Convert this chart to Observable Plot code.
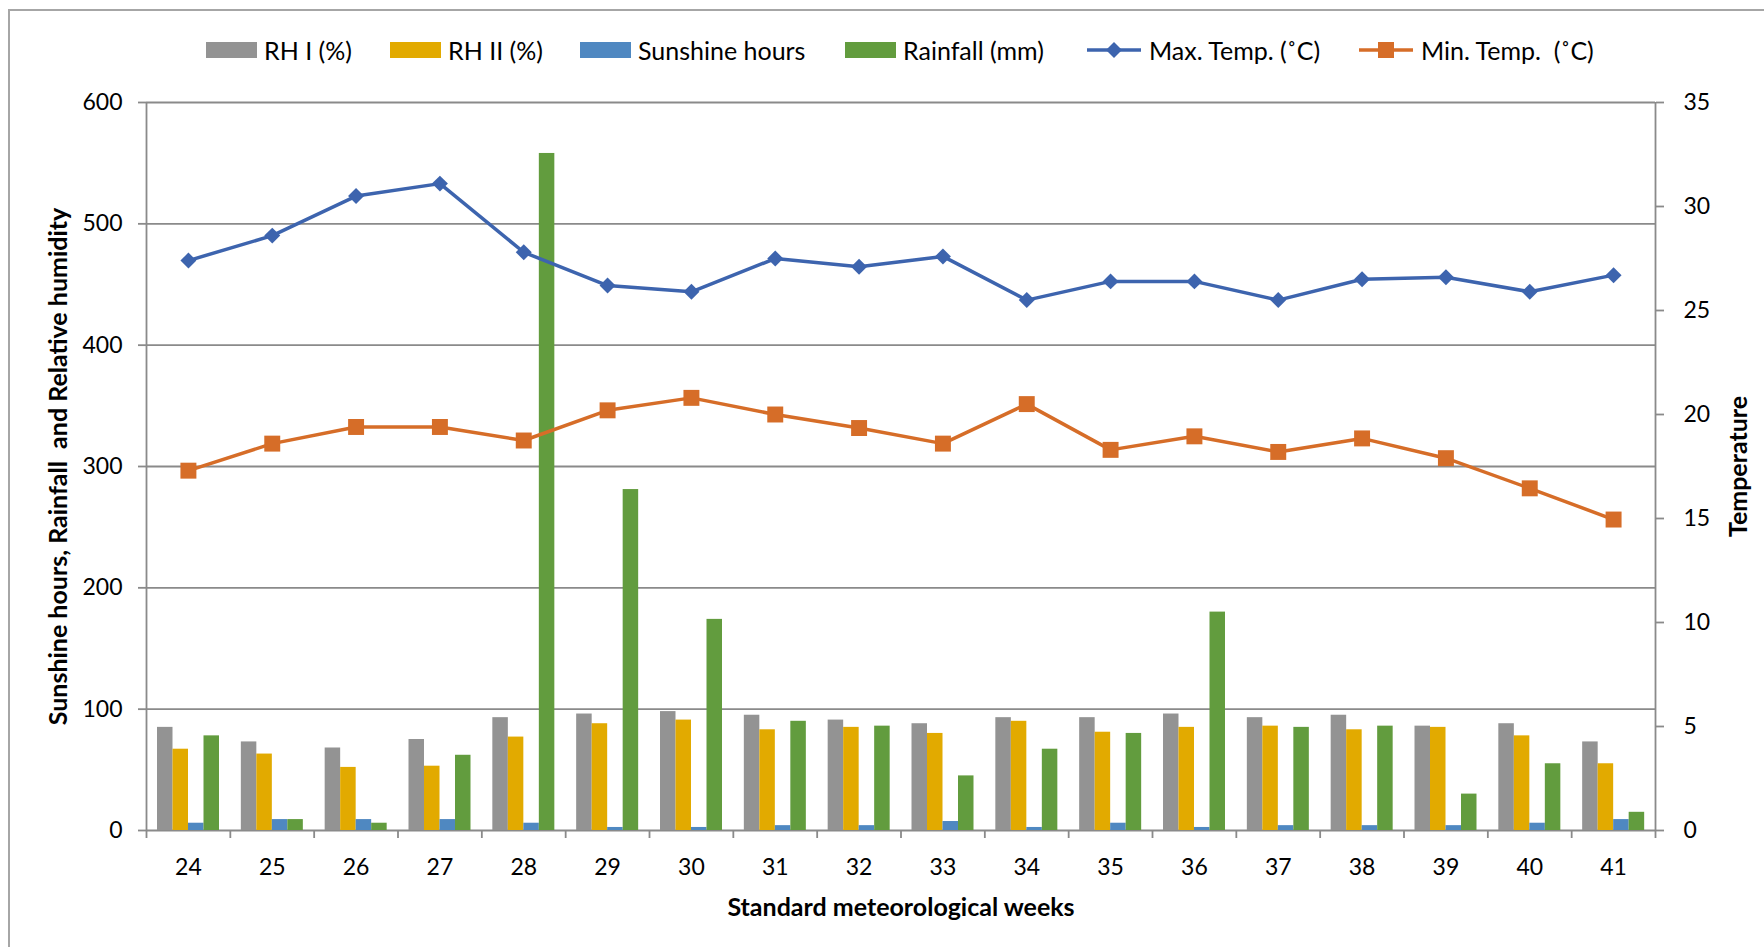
<!DOCTYPE html>
<html>
<head>
<meta charset="utf-8">
<script src="https://cdn.jsdelivr.net/npm/d3@7"></script>
<script src="https://cdn.jsdelivr.net/npm/@observablehq/plot@0.6"></script>
<style>
  html, body { margin: 0; padding: 0; background: #fff; overflow: hidden; }
  #wrap { position: relative; width: 1764px; height: 947px; font-family: Lato, "Open Sans", sans-serif; }
  #frame { position: absolute; left: 8px; top: 9px; width: 1800px; height: 1000px;
           border-left: 2px solid #a6a6a6; border-top: 2px solid #a6a6a6; box-sizing: border-box; }
  #chart { position: absolute; left: 0; top: 0; }
  .lg { position: absolute; top: 37px; height: 26px; display: flex; align-items: center;
        font-size: 25px; color: #000; white-space: pre; }
  .sw { width: 51px; height: 16px; margin-right: 7px; }
</style>
</head>
<body>
<div id="wrap">
  <div id="frame"></div>
  <div id="chart"></div>
  <div id="legend"></div>
</div>
<script>
// ---- data ----
const weeks    = [24, 25, 26, 27, 28, 29, 30, 31, 32, 33, 34, 35, 36, 37, 38, 39, 40, 41];
const rh1      = [85, 73, 68, 75, 93, 96, 98, 95, 91, 88, 93, 93, 96, 93, 95, 86, 88, 73];
const rh2      = [67, 63, 52, 53, 77, 88, 91, 83, 85, 80, 90, 81, 85, 86, 83, 85, 78, 55];
const sunshine = [6, 9, 9, 9, 6, 2.5, 2.5, 4, 4, 7.4, 2.5, 6, 2.5, 4, 4, 4, 6, 9];
const rainfall = [78, 9, 6, 62, 558, 281, 174, 90, 86, 45, 67, 80, 180, 85, 86, 30, 55, 15];
const maxTemp  = [27.4, 28.6, 30.5, 31.1, 27.8, 26.2, 25.9, 27.5, 27.1, 27.6, 25.5, 26.4, 26.4, 25.5, 26.5, 26.6, 25.9, 26.7];
const minTemp  = [17.3, 18.6, 19.4, 19.4, 18.75, 20.2, 20.8, 20.0, 19.35, 18.6, 20.5, 18.3, 18.95, 18.2, 18.85, 17.9, 16.45, 14.95];

const leftTicks  = [0, 100, 200, 300, 400, 500, 600];
const rightTicks = [0, 5, 10, 15, 20, 25, 30, 35];

const seriesNames = ["RH I (%)", "RH II (%)", "Sunshine hours", "Rainfall (mm)"];
const seriesVals  = [rh1, rh2, sunshine, rainfall];
const colors = {
  "RH I (%)": "#939393",
  "RH II (%)": "#E2AA00",
  "Sunshine hours": "#4F88C1",
  "Rainfall (mm)": "#629C3E",
  max: "#3D64AE",
  min: "#D66D28"
};

// ---- layout ----
const W = 1764, H = 947;
const mL = 146, mR = W - 1655, mT = 102, mB = H - 830;
const k = 600 / 35; // temperature -> left-axis units
const bw = (W - mL - mR) / weeks.length;
const barOff = 11, barW = 15.5;

const bars = [];
seriesNames.forEach((s, i) => weeks.forEach((w, j) => bars.push({week: w, series: s, i, value: seriesVals[i][j]})));
const temps = weeks.map((w, j) => ({week: w, max: maxTemp[j], min: minTemp[j]}));
const boundaries = d3.range(weeks[0] - 0.5, weeks[weeks.length - 1] + 1, 1);
const grid = "#8a8a8a";

const barMarks = seriesNames.map((s, i) =>
  Plot.rectY(bars.filter(d => d.series === s), {
    x1: d => d.week - 0.5, x2: d => d.week + 0.5, y: "value",
    fill: colors[s],
    insetLeft: barOff + barW * i,
    insetRight: bw - barOff - barW * (i + 1)
  })
);

const chart = Plot.plot({
  width: W, height: H,
  marginLeft: mL, marginRight: mR, marginTop: mT, marginBottom: mB,
  style: {fontFamily: "Lato, 'Open Sans', sans-serif", fontSize: "23px", color: "#000", background: "transparent"},
  x: {type: "linear", domain: [weeks[0] - 0.5, weeks[weeks.length - 1] + 0.5]},
  y: {domain: [0, 600]},
  marks: [
    Plot.ruleY(leftTicks, {stroke: grid, strokeWidth: 1.8}),
    ...barMarks,
    Plot.ruleX([boundaries[0], boundaries[boundaries.length - 1]], {y1: 0, y2: 600, stroke: grid, strokeWidth: 1.8}),
    Plot.line(temps, {x: "week", y: d => d.max * k, stroke: colors.max, strokeWidth: 3.5}),
    Plot.dot(temps, {x: "week", y: d => d.max * k, symbol: "diamond2", r: 7.2, fill: colors.max, stroke: null}),
    Plot.line(temps, {x: "week", y: d => d.min * k, stroke: colors.min, strokeWidth: 3.5}),
    Plot.dot(temps, {x: "week", y: d => d.min * k, symbol: "square", r: 9, fill: colors.min, stroke: null}),
    Plot.axisY({ticks: leftTicks, tickSize: 8, tickPadding: 16, stroke: grid, strokeWidth: 1.8, label: null, fill: "#000"}),
    Plot.axisY({anchor: "right", ticks: rightTicks.map(t => t * k), tickFormat: d => String(Math.round(d / k)),
                tickSize: 8, tickPadding: 20, stroke: grid, strokeWidth: 1.8, label: null, fill: "#000"}),
    Plot.axisX({ticks: weeks, tickSize: 0, tickPadding: 28, tickFormat: d => String(d), label: null, fill: "#000"}),
    Plot.axisX({ticks: boundaries, tickSize: 8, tickFormat: () => "", stroke: grid, strokeWidth: 1.8, label: null}),
    Plot.text(["Sunshine hours, Rainfall  and Relative humidity"], {frameAnchor: "left", dx: -88, rotate: -90,
                textAnchor: "middle", lineAnchor: "middle", fontWeight: "bold", fontSize: 25, fill: "#000"}),
    Plot.text(["Temperature"], {frameAnchor: "right", dx: 83, rotate: -90, textAnchor: "middle", lineAnchor: "middle",
                fontWeight: "bold", fontSize: 25, fill: "#000"}),
    Plot.text(["Standard meteorological weeks"], {frameAnchor: "bottom", dy: 77, textAnchor: "middle", lineAnchor: "middle",
                fontWeight: "bold", fontSize: 25, fill: "#000"})
  ]
});
document.getElementById("chart").appendChild(chart);

// ---- legend (HTML) ----
const legendItems = [
  {label: "RH I (%)", type: "bar", color: colors["RH I (%)"], left: 206},
  {label: "RH II (%)", type: "bar", color: colors["RH II (%)"], left: 390},
  {label: "Sunshine hours", type: "bar", color: colors["Sunshine hours"], left: 580},
  {label: "Rainfall (mm)", type: "bar", color: colors["Rainfall (mm)"], left: 845},
  {label: "Max. Temp. (˚C)", type: "diamond", color: colors.max, left: 1087},
  {label: "Min. Temp.  (˚C)", type: "square", color: colors.min, left: 1359}
];
const lg = document.getElementById("legend");
legendItems.forEach(it => {
  const d = document.createElement("div");
  d.className = "lg";
  d.style.left = it.left + "px";
  let sw;
  if (it.type === "bar") {
    sw = `<div class="sw" style="background:${it.color}"></div>`;
  } else {
    const mk = it.type === "diamond"
      ? `<path d="M27,3 L35,11 L27,19 L19,11 Z" fill="${it.color}"/>`
      : `<rect x="19" y="3" width="16" height="16" fill="${it.color}"/>`;
    sw = `<svg width="54" height="22" style="margin-right:8px"><line x1="0" x2="54" y1="11" y2="11" stroke="${it.color}" stroke-width="3.5"/>${mk}</svg>`;
  }
  d.innerHTML = sw + `<span>${it.label}</span>`;
  lg.appendChild(d);
});
</script>
</body>
</html>
